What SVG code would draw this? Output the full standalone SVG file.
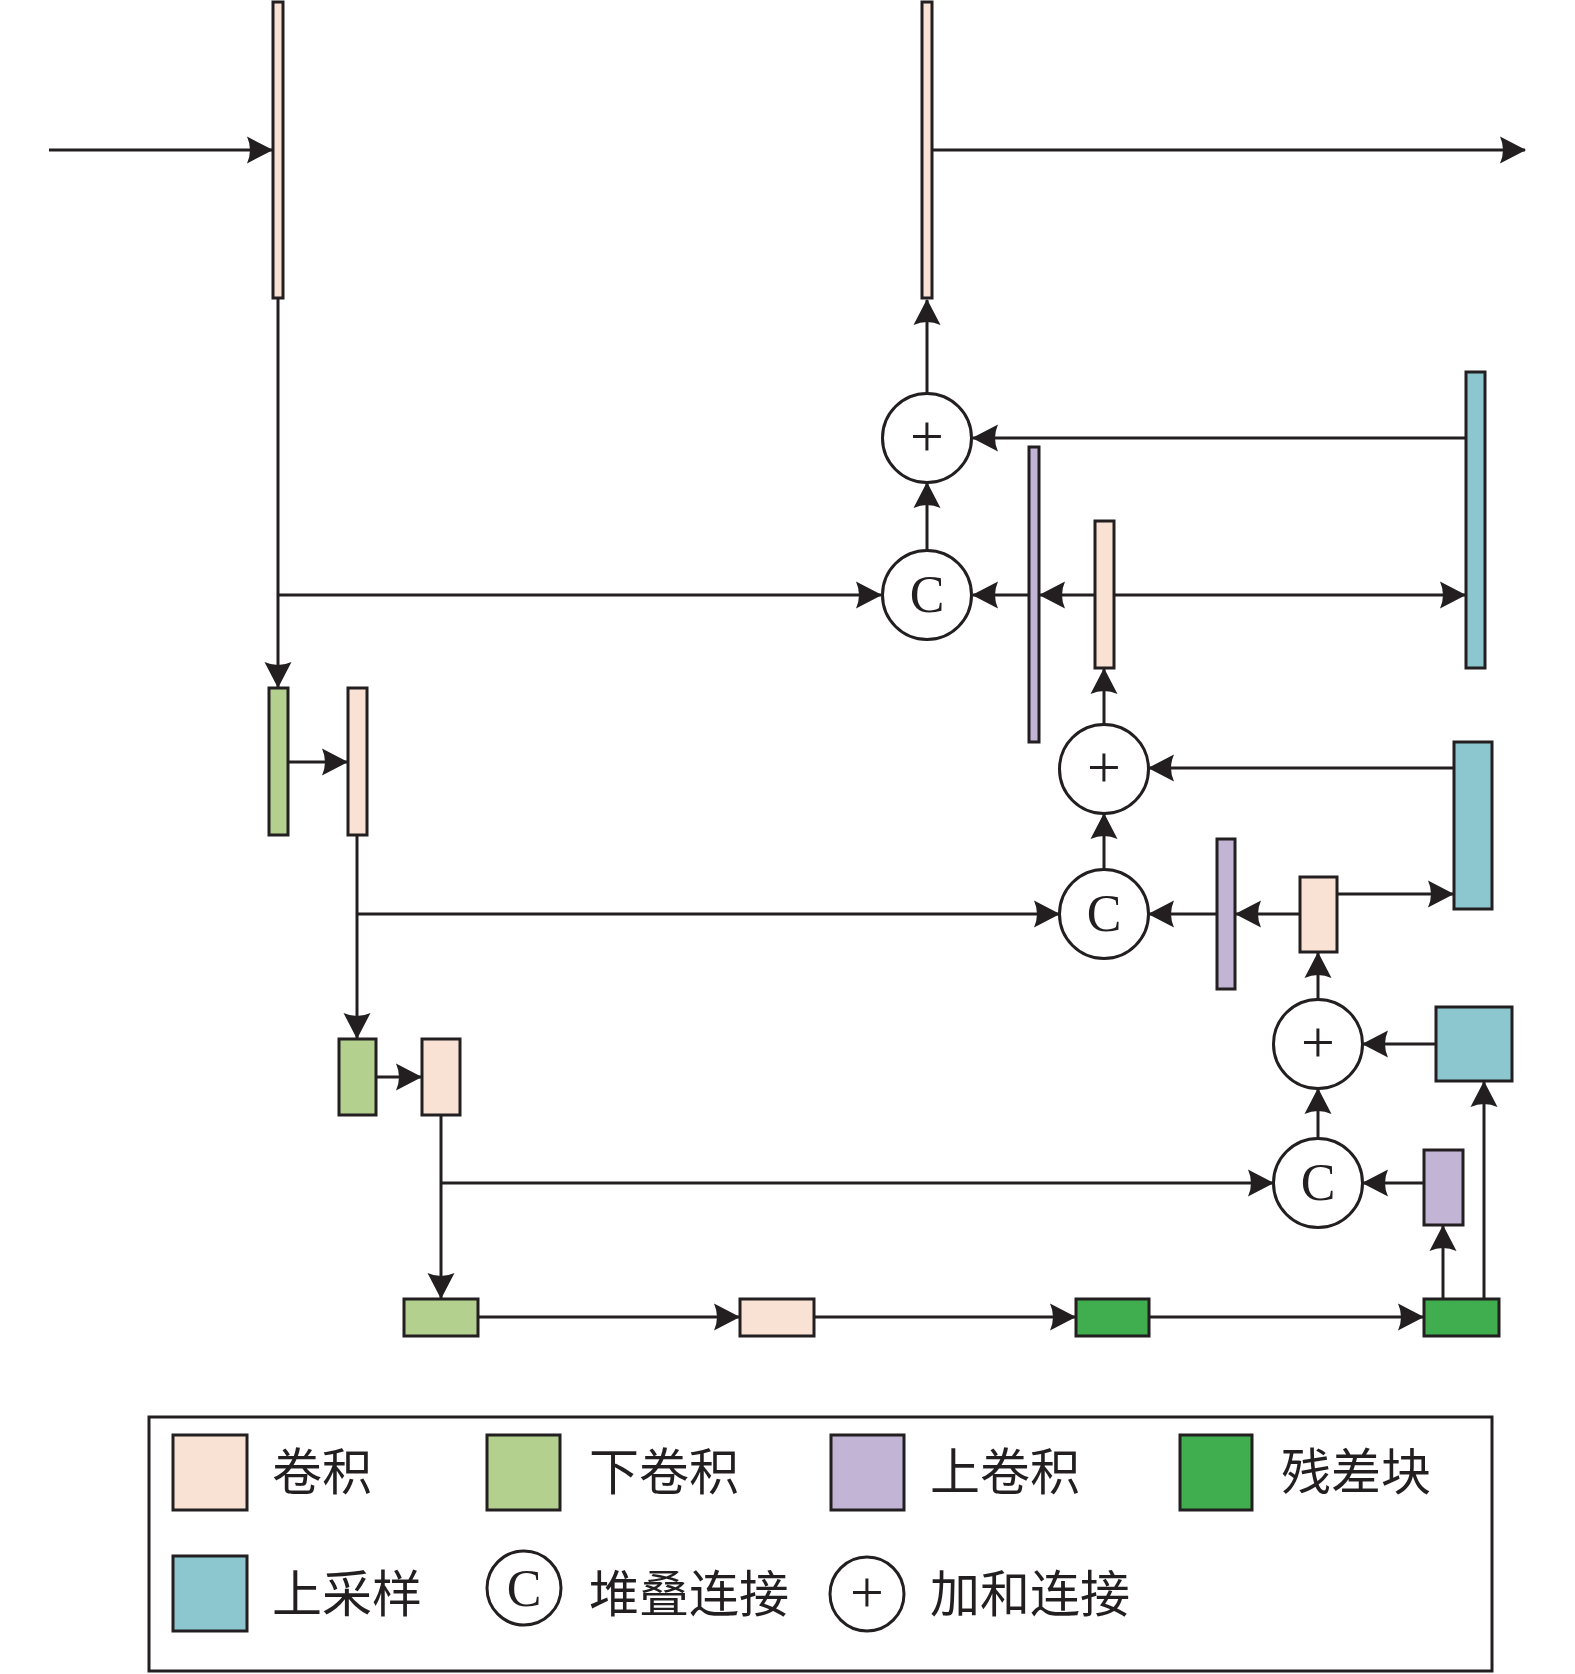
<svg xmlns="http://www.w3.org/2000/svg" width="1575" height="1674" viewBox="0 0 1575 1674">
<style>
.b{stroke:#231f20;stroke-width:3}
.conv{fill:#f9e1d4}
.down{fill:#b3d08f}
.up{fill:#c1b4d5}
.res{fill:#40ae4f}
.ups{fill:#8cc6cf}
.op{fill:#ffffff;stroke:#231f20;stroke-width:3}
.sym{font-family:"Liberation Serif","Times New Roman",serif;font-size:52px;fill:#231f20;text-anchor:middle}
.pl{font-family:"Liberation Serif","Times New Roman",serif;font-size:60px;fill:#231f20;text-anchor:middle}
.lg{font-family:"Liberation Sans","Noto Sans CJK SC",sans-serif;font-size:50px;fill:#231f20}
#connectors path{fill:none;stroke:#231f20;stroke-width:3;marker-end:url(#ah)}
</style>
<defs>
<marker id="ah" markerUnits="userSpaceOnUse" markerWidth="28" markerHeight="30" viewBox="-27 -15 28 30" refX="0" refY="0" orient="auto">
<path d="M1,0 L-25,-13.5 Q-19,0 -25,13.5 Z" fill="#231f20"/>
</marker>
</defs>
<rect x="0" y="0" width="1575" height="1674" fill="#ffffff"/>

<g id="connectors">
<path d="M49,150 H272"/>
<path d="M932,150 H1525"/>
<path d="M278,299 V687"/>
<path d="M278,595 H881"/>
<path d="M927,550 V483"/>
<path d="M927,393 V300"/>
<path d="M1466,438 H973"/>
<path d="M1029,595 H973"/>
<path d="M1095,595 H1040"/>
<path d="M1114,595 H1465"/>
<path d="M1104,724 V669"/>
<path d="M1454,768 H1149"/>
<path d="M1104,869 V814"/>
<path d="M288,762 H347"/>
<path d="M357,836 V1038"/>
<path d="M357,914 H1059"/>
<path d="M1217,914 H1149"/>
<path d="M1300,914 H1236"/>
<path d="M1337,894 H1453"/>
<path d="M1318,999 V953"/>
<path d="M1436,1044 H1363"/>
<path d="M1318,1138 V1089"/>
<path d="M1424,1183 H1363"/>
<path d="M376,1077 H421"/>
<path d="M441,1116 V1298"/>
<path d="M441,1183 H1273"/>
<path d="M478,1317 H739"/>
<path d="M814,1317 H1075"/>
<path d="M1149,1317 H1423"/>
<path d="M1443,1299 V1226"/>
<path d="M1484,1299 V1082"/>
</g>

<g id="conv_top_left"><rect class="b conv" x="273" y="2" width="10" height="296"/></g>
<g id="conv_top_mid"><rect class="b conv" x="922" y="2" width="10" height="296"/></g>
<g id="upconv_1"><rect class="b up" x="1029" y="447" width="10" height="295"/></g>
<g id="conv_mid_1"><rect class="b conv" x="1095" y="521" width="19" height="147"/></g>
<g id="upsample_1"><rect class="b ups" x="1466" y="372" width="19" height="296"/></g>
<g id="downconv_1"><rect class="b down" x="269" y="688" width="19" height="147"/></g>
<g id="conv_1"><rect class="b conv" x="348" y="688" width="19" height="147"/></g>
<g id="upconv_2"><rect class="b up" x="1217" y="839" width="18" height="150"/></g>
<g id="conv_mid_2"><rect class="b conv" x="1300" y="877" width="37" height="75"/></g>
<g id="upsample_2"><rect class="b ups" x="1454" y="742" width="38" height="167"/></g>
<g id="downconv_2"><rect class="b down" x="339" y="1039" width="37" height="76"/></g>
<g id="conv_2"><rect class="b conv" x="422" y="1039" width="38" height="76"/></g>
<g id="upsample_3"><rect class="b ups" x="1436" y="1007" width="76" height="74"/></g>
<g id="upconv_3"><rect class="b up" x="1424" y="1150" width="39" height="75"/></g>
<g id="downconv_3"><rect class="b down" x="404" y="1299" width="74" height="37"/></g>
<g id="conv_3"><rect class="b conv" x="740" y="1299" width="74" height="37"/></g>
<g id="resblock_1"><rect class="b res" x="1076" y="1299" width="73" height="37"/></g>
<g id="resblock_2"><rect class="b res" x="1424" y="1299" width="75" height="37"/></g>

<g id="add_1"><circle class="op" cx="927" cy="438" r="44.5"/><text class="pl" x="927" y="456">+</text></g>
<g id="concat_1"><circle class="op" cx="927" cy="595" r="44.5"/><text class="sym" x="927" y="612">C</text></g>
<g id="add_2"><circle class="op" cx="1104" cy="769" r="44.5"/><text class="pl" x="1104" y="787">+</text></g>
<g id="concat_2"><circle class="op" cx="1104" cy="914" r="44.5"/><text class="sym" x="1104" y="931">C</text></g>
<g id="add_3"><circle class="op" cx="1318" cy="1044" r="44.5"/><text class="pl" x="1318" y="1062">+</text></g>
<g id="concat_3"><circle class="op" cx="1318" cy="1183" r="44.5"/><text class="sym" x="1318" y="1200">C</text></g>

<g id="legend">
<rect x="149" y="1417" width="1343" height="254" fill="none" stroke="#231f20" stroke-width="3"/>
<rect class="b conv" x="173" y="1435" width="74" height="75"/>
<text class="lg" x="272" y="1490">卷积</text>
<rect class="b down" x="487" y="1435" width="73" height="75"/>
<text class="lg" x="589" y="1490">下卷积</text>
<rect class="b up" x="831" y="1435" width="73" height="75"/>
<text class="lg" x="930" y="1490">上卷积</text>
<rect class="b res" x="1180" y="1435" width="72" height="75"/>
<text class="lg" x="1281" y="1490">残差块</text>
<rect class="b ups" x="173" y="1556" width="74" height="75"/>
<text class="lg" x="272" y="1612">上采样</text>
<circle cx="524" cy="1588" r="37" fill="#ffffff" stroke="#231f20" stroke-width="3"/>
<text class="sym" x="524" y="1606">C</text>
<text class="lg" x="589" y="1612">堆叠连接</text>
<circle cx="867" cy="1594" r="37" fill="#ffffff" stroke="#231f20" stroke-width="3"/>
<text class="pl" x="867" y="1612">+</text>
<text class="lg" x="930" y="1612">加和连接</text>
</g>
</svg>
